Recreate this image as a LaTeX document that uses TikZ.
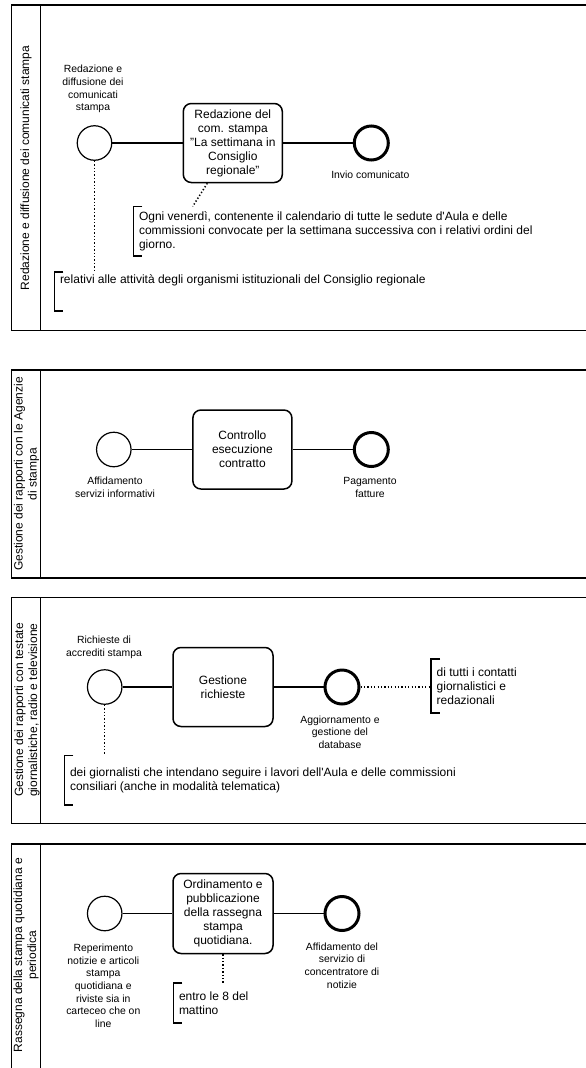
\documentclass[tikz,border=0pt]{standalone}
\usepackage{fontspec}
\setmainfont{Liberation Sans}
\newcommand{\evfont}{\fontsize{10.4}{12.7}\selectfont}
\newcommand{\txfont}{\fontsize{12}{14}\selectfont}
\begin{document}
\begin{tikzpicture}[x=1pt, y=-1pt,
  pool/.style={draw, line width=1.5pt},
  startev/.style={circle, draw, line width=1.2pt, minimum size=34.5pt, inner sep=0pt},
  endev/.style={circle, draw, line width=3pt, minimum size=34pt, inner sep=0pt},
  task/.style={draw, rounded corners=8pt, line width=1.5pt, minimum width=99pt, minimum height=79pt, align=center, font=\txfont, inner sep=0pt},
  evlabel/.style={align=center, font=\evfont, inner sep=0pt},
  lanetitle/.style={rotate=90, align=center, font=\txfont, inner sep=0pt},
  anno/.style={anchor=west, align=left, font=\txfont, inner xsep=5.5pt, inner ysep=0pt},
  flow/.style={line width=1.2pt},
  assoc/.style={line width=1.5pt, dash pattern=on 1.3pt off 2.1pt},
  bracket/.style={line width=1.6pt}]
  \useasboundingbox (0,0) rectangle (586,1068);
  \clip (0,0) rectangle (586,1068);
  % Pool 1: comunicati stampa
  \draw[pool] (11.5,5) rectangle (600,330.5);
  \draw[pool] (40.5,5) -- (40.5,330.5);
  \node[lanetitle] (h1) at (26,168) {Redazione e diffusione dei comunicati stampa};
  \node[startev] (s1) at (94.5,143) {};
  \node[evlabel] (l1) at (93,89) {Redazione e\\diffusione dei\\comunicati\\stampa};
  \node[task] (t1) at (232.8,143) {Redazione del\\com. stampa\\"La settimana in\\Consiglio\\regionale"};
  \node[endev] (e1) at (371.3,143) {};
  \node[evlabel] (m1) at (370.3,175) {Invio comunicato};
  \node[anno, minimum height=49.3pt] (a1) at (133.3,231.3) {Ogni venerdì, contenente il calendario di tutte le sedute d\textquotesingle Aula e delle\\commissioni convocate per la settimana successiva con i relativi ordini del\\giorno.};
  \node[anno, anchor=north west, text height=11.8pt, text depth=27.2pt] (a2) at (54.3,271.7) {relativi alle attività degli organismi istituzionali del Consiglio regionale};
  \draw[flow] (s1) -- (t1);
  \draw[flow] (t1) -- (e1);
  \draw[assoc] ([xshift=-25.5pt]t1.south) -- ([xshift=59.4pt]a1.north west);
  \draw[assoc] (s1) -- (s1 |- a2.north);
  % Pool 2: agenzie di stampa
  \draw[pool] (11.5,370) rectangle (600,578);
  \draw[pool] (40.5,370) -- (40.5,578);
  \node[lanetitle] (h2) at (26.5,474) {Gestione dei rapporti con le Agenzie\\di stampa};
  \node[startev] (s2) at (113.8,449.5) {};
  \node[evlabel] (l2) at (115,487.2) {Affidamento\\servizi informativi};
  \node[task] (t2) at (242.4,449.5) {Controllo\\esecuzione\\contratto};
  \node[endev] (e2) at (371.3,449.5) {};
  \node[evlabel] (m2) at (370,487.2) {Pagamento\\fatture};
  \draw[flow] (s2) -- (t2);
  \draw[flow] (t2) -- (e2);
  % Pool 3: testate giornalistiche
  \draw[pool] (11.5,597.3) rectangle (600,823.3);
  \draw[pool] (40.5,597.3) -- (40.5,823.3);
  \node[lanetitle] (h3) at (27,710) {Gestione dei rapporti con testate\\giornalistiche, radio e televisione};
  \node[startev] (s3) at (104.7,687) {};
  \node[evlabel] (l3) at (104,647) {Richieste di\\accrediti stampa};
  \node[task, minimum width=100pt] (t3) at (223,687) {Gestione\\richieste};
  \node[endev] (e3) at (342,687) {};
  \node[evlabel] (m3) at (340,732) {Aggiornamento e\\gestione del\\database};
  \node[anno, minimum height=53.7pt] (a3) at (431,685.9) {di tutti i contatti\\giornalistici e\\redazionali};
  \node[anno, minimum height=49.3pt] (a4) at (64.3,780.3) {dei giornalisti che intendano seguire i lavori dell\textquotesingle Aula e delle commissioni\\consiliari (anche in modalità telematica)};
  \draw[flow] (s3) -- (t3);
  \draw[flow] (t3) -- (e3);
  \draw[assoc] (e3) -- (e3 -| a3.west);
  \draw[assoc] (s3) -- (s3 |- a4.north);
  % Pool 4: rassegna stampa
  \draw[pool] (11.5,844) rectangle (600,1075);
  \draw[pool] (40.5,844) -- (40.5,1075);
  \node[lanetitle] (h4) at (26,955) {Rassegna della stampa quotidiana e\\periodica};
  \node[startev] (s4) at (104.7,913.5) {};
  \node[evlabel] (l4) at (103.3,985.8) {Reperimento\\notizie e articoli\\stampa\\quotidiana e\\riviste sia in\\carteceo che on\\line};
  \node[task, minimum width=100pt, minimum height=80pt] (t4) at (223,913.5) {Ordinamento e\\pubblicazione\\della rassegna\\stampa\\quotidiana.};
  \node[endev] (e4) at (342,913.5) {};
  \node[evlabel] (m4) at (342,965.4) {Affidamento del\\servizio di\\concentratore di\\notizie};
  \node[anno, minimum height=39.4pt] (a5) at (173.3,1003) {entro le 8 del\\mattino};
  \draw[flow] (s4) -- (t4);
  \draw[flow] (t4) -- (e4);
  \draw[assoc] (t4) -- (t4 |- a5.north);
  % Annotation brackets
  \foreach \a in {a1,a2,a3,a4,a5}
    \draw[bracket] ([xshift=9pt]\a.north west) -- (\a.north west) -- (\a.south west) -- ([xshift=9pt]\a.south west);
\end{tikzpicture}
\end{document}
